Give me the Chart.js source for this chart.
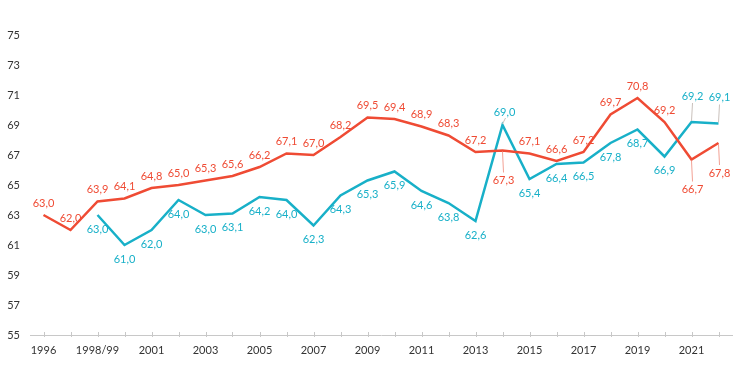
<!DOCTYPE html>
<html>
<head>
<meta charset="utf-8">
<script src="https://cdn.jsdelivr.net/npm/chart.js@4/dist/chart.umd.min.js"></script>
<style>
  html, body { margin: 0; padding: 0; background: #fff; }
  #wrap { width: 746px; height: 392px; }
</style>
</head>
<body>
<div id="wrap"><canvas id="c" width="746" height="392"></canvas></div>
<script>
// ---- data ----
const categories = ['1996','1997','1998/99','2000','2001','2002','2003','2004','2005','2006','2007','2008','2009','2010','2011','2012','2013','2014','2015','2016','2017','2018','2019','2020','2021','2022'];
const redSeries  = [63.0, 62.0, 63.9, 64.1, 64.8, 65.0, 65.3, 65.6, 66.2, 67.1, 67.0, 68.2, 69.5, 69.4, 68.9, 68.3, 67.2, 67.3, 67.1, 66.6, 67.2, 69.7, 70.8, 69.2, 66.7, 67.8];
const blueSeries = [null, null, 63.0, 61.0, 62.0, 64.0, 63.0, 63.1, 64.2, 64.0, 62.3, 64.3, 65.3, 65.9, 64.6, 63.8, 62.6, 69.0, 65.4, 66.4, 66.5, 67.8, 68.7, 66.9, 69.2, 69.1];
const yTicks = [55, 57, 59, 61, 63, 65, 67, 69, 71, 73, 75];

// ---- styles ----
const RED = '#EF4B34';
const BLUE = '#18B0C8';
const FONT = 'Lato, "Noto Sans", sans-serif';

// label placement (styling only): default per dataset, with overrides by index
const labelPlacement = [
  { def: 'above', over: { 17: 'leaderBelow', 24: 'leaderBelow', 25: 'leaderBelow' }, leader: '#F2A093' },
  { def: 'below', over: { 17: 'leaderShortAbove', 24: 'leaderAbove', 25: 'leaderAbove' }, leader: '#C9C0BB' }
];

function fmt(v) { return v.toFixed(1).replace('.', ','); }

const labelsPlugin = {
  id: 'pointLabels',
  afterDatasetsDraw(chart) {
    const ctx = chart.ctx;
    ctx.save();
    ctx.font = '11px ' + FONT;
    ctx.textAlign = 'center';
    ctx.textBaseline = 'middle';
    chart.data.datasets.forEach((ds, di) => {
      const meta = chart.getDatasetMeta(di);
      const pl = labelPlacement[di];
      meta.data.forEach((el, i) => {
        const v = ds.data[i];
        if (v === null || v === undefined) return;
        const mode = pl.over[i] || pl.def;
        const x = el.x, y = el.y;
        let ly, lx = x;
        ctx.strokeStyle = pl.leader;
        ctx.lineWidth = 1;
        if (mode === 'above') ly = y - 12;
        else if (mode === 'below') ly = y + 14;
        else if (mode === 'leaderBelow') {
          ly = y + 30; lx = x + 1;
          ctx.beginPath(); ctx.moveTo(x, y + 1); ctx.lineTo(lx, ly - 8); ctx.stroke();
        } else if (mode === 'leaderAbove') {
          ly = y - 26; lx = x + 1;
          ctx.beginPath(); ctx.moveTo(x, y - 1); ctx.lineTo(lx, ly + 7); ctx.stroke();
        } else if (mode === 'leaderShortAbove') {
          ly = y - 13; lx = x + 2;
          ctx.beginPath(); ctx.moveTo(x, y - 1); ctx.lineTo(lx + 1, ly + 6); ctx.stroke();
        }
        ctx.fillStyle = ds.borderColor;
        ctx.fillText(fmt(v), lx, ly);
      });
    });
    ctx.restore();
  }
};

const tickMarksPlugin = {
  id: 'tickMarks',
  afterDraw(chart) {
    const xs = chart.scales.x;
    const ctx = chart.ctx;
    ctx.save();
    ctx.strokeStyle = '#C8C8C8';
    ctx.lineWidth = 1;
    for (let i = 0; i < categories.length; i++) {
      const px = Math.round(xs.getPixelForTick(i)) + 0.5;
      ctx.beginPath();
      ctx.moveTo(px, xs.top - 3);
      ctx.lineTo(px, xs.top + 2);
      ctx.stroke();
    }
    ctx.restore();
  }
};

new Chart(document.getElementById('c'), {
  type: 'line',
  data: {
    labels: categories,
    datasets: [
      { data: redSeries, borderColor: RED, backgroundColor: RED, borderWidth: 2.5, pointRadius: 0, tension: 0, spanGaps: false },
      { data: blueSeries, borderColor: BLUE, backgroundColor: BLUE, borderWidth: 2.5, pointRadius: 0, tension: 0, spanGaps: false }
    ]
  },
  options: {
    responsive: false,
    animation: false,
    devicePixelRatio: 1,
    layout: { padding: { top: 35, right: 14, bottom: 20, left: 0 } },
    plugins: { legend: { display: false }, tooltip: { enabled: false } },
    scales: {
      x: {
        offset: true,
        grid: { display: true, drawOnChartArea: false, drawTicks: false, offset: false, color: '#C8C8C8' },
        border: { display: true, color: '#C8C8C8', width: 1 },
        ticks: {
          autoSkip: false, maxRotation: 0, padding: 9, color: '#333',
          font: { family: FONT, size: 11 },
          callback: function (val, idx) { return idx % 2 === 0 ? categories[idx] : ''; }
        },
        afterFit(s) { s.height = 37; }
      },
      y: {
        min: 55, max: 75,
        afterBuildTicks(s) { s.ticks = yTicks.map(v => ({ value: v })); },
        grid: { display: false, drawTicks: false },
        border: { display: false },
        ticks: { padding: 10, color: '#333', font: { family: FONT, size: 11 } },
        afterFit(s) { s.width = 30; }
      }
    }
  },
  plugins: [labelsPlugin, tickMarksPlugin]
});
</script>
</body>
</html>
